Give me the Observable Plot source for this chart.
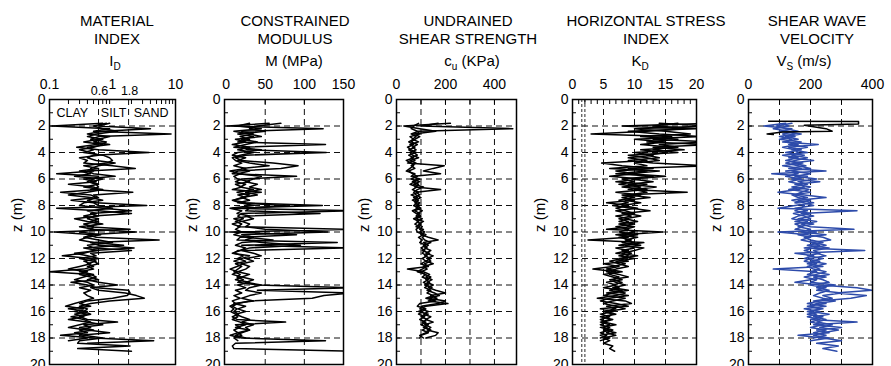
<!DOCTYPE html>
<html><head><meta charset="utf-8">
<script src="https://cdn.jsdelivr.net/npm/d3@7"></script>
<script src="https://cdn.jsdelivr.net/npm/@observablehq/plot@0.6"></script>
<style>
body{margin:0;background:#fff;}
#chart{position:relative;width:891px;height:366px;overflow:hidden;font-family:"Liberation Sans",Arial,sans-serif;color:#000;}
#chart svg{position:absolute;left:0;top:0;}
.t{position:absolute;transform:translateX(-50%);white-space:nowrap;font-size:15px;line-height:15px;}
.t sub{font-size:10px;vertical-align:baseline;position:relative;top:4px;}
</style></head><body><div id="chart"></div>
<script>
// ---------- DATA ----------
const depth = [1.8,2.0,2.2,2.4,2.6,2.8,3.0,3.2,3.4,3.6,
 3.8,4.0,4.2,4.4,4.6,4.8,5.0,5.2,5.4,5.6,
 5.8,6.0,6.2,6.4,6.6,6.8,7.0,7.2,7.4,7.6,
 7.8,8.0,8.2,8.4,8.6,8.8,9.0,9.2,9.4,9.6,
 9.8,10.0,10.2,10.4,10.6,10.8,11.0,11.2,11.4,11.6,
 11.8,12.0,12.2,12.4,12.6,12.8,13.0,13.2,13.4,13.6,
 13.8,14.0,14.2,14.4,14.6,14.8,15.0,15.2,15.4,15.6,
 15.8,16.0,16.2,16.4,16.6,16.8,17.0,17.2,17.4,17.6,
 17.8,18.0,18.2,18.4,18.6,18.8,19.0];

// Material index I_D
const idA = [0.7,0.11,0.9,0.5,8.5,0.6,0.45,0.8,0.55,0.27,
 0.6,3.8,0.5,0.4,0.55,1.1,0.6,0.45,0.5,0.13,
 0.6,0.5,0.4,0.55,0.6,0.45,2.1,0.5,0.6,0.4,
 0.55,3.5,0.13,0.6,2.0,0.5,0.4,0.6,0.35,0.5,
 0.45,2.4,0.4,0.55,5.5,0.45,0.6,2.2,0.5,0.35,
 0.16,0.45,0.55,0.4,0.5,0.35,0.1,0.45,0.55,0.4,
 0.6,1.2,0.45,0.6,1.6,2.4,3.2,0.9,0.45,0.3,
 0.4,0.35,0.45,0.3,0.4,1.2,0.35,0.45,0.3,0.4,
 0.15,0.5,4.5,0.4];
const idB = [0.9,0.6,4.0,0.7,0.4,0.9,0.6,0.35,0.7,0.5,
 0.3,0.45,0.6,0.3,0.4,0.35,1.0,2.3,0.4,0.5,
 1.1,0.35,0.55,0.2,0.5,0.6,0.15,0.45,0.55,0.22,
 0.5,0.6,1.0,0.4,0.55,0.35,0.6,0.45,0.6,0.4,
 1.9,0.12,0.5,0.35,0.6,1.0,0.4,0.5,2.0,0.45,
 0.55,0.3,0.5,0.6,0.4,0.5,0.3,0.5,0.35,0.25,
 0.4,0.5,0.3,0.45,0.35,0.4,0.5,0.35,0.25,0.18,
 0.35,0.25,0.4,0.22,0.35,0.45,0.3,0.2,0.4,0.9,
 0.3,0.4,0.2];
const idC = [0.8,0.5,0.7,1.2,0.55,0.4,0.7,0.5,0.9,0.4,
 0.5,0.35,0.7,0.9,1.0,0.8,0.35,0.6,0.3,0.45,
 0.25,0.7,0.45,0.6,0.35,0.7,0.4,0.2,0.45,0.7,
 0.35,0.3,0.7,2.0,0.45,0.6,0.25,0.4,0.7,0.3,
 0.5,0.3,0.65,0.4,0.3,0.5,1.5,0.35,0.6,0.25,
 0.4,0.6,0.35,0.45,0.3,0.2,0.4,0.3,0.45,0.6,
 0.22,0.4,0.55,1.8,1.9,1.7,1.0,0.4,0.3,0.45,
 0.2,0.4,0.25,0.35,0.2,0.4,0.7,0.3,0.5,0.25,
 0.35,0.7,0.3,0.28,1.9,0.28,2.0];

// Constrained modulus M (MPa)
const mA = [55,2,124,20,35,18,30,15,127,20,
 28,128,25,12,20,60,92,70,15,8,
 90,20,12,25,18,35,14,30,20,10,
 25,123,8,160,20,15,22,12,20,15,
 160,5,90,18,14,142,20,160,15,10,
 22,15,25,12,20,15,10,18,14,22,
 15,40,160,40,160,125,110,30,15,8,
 14,10,16,8,14,76,12,18,10,15,
 5,20,127,12,8,10,160];
const mB = [70,40,30,50,15,35,20,40,25,10,
 45,15,8,25,15,30,55,20,30,15,
 45,35,25,40,30,45,25,40,20,30,
 15,75,30,25,120,25,35,20,30,25,
 50,130,20,35,25,45,95,30,20,35,
 45,25,35,20,30,25,15,30,20,35,
 25,45,30,25,45,30,20,35,10,25,
 15,25,12,20,30,20,35,25,30,15,
 20,10,15];
const mC = [30,15,45,10,30,45,12,25,8,30,
 15,35,18,8,12,20,10,25,5,18,
 10,15,30,12,20,8,45,15,25,8,
 18,35,5,20,14,30,10,20,8,18,
 12,20,10,25,60,20,12,25,18,8,
 30,20,10,22,14,5,15,8,20,12,
 30,15,25,12,20,10,18,8,12,5,
 10,6,12,15,8,18,25,12,30,20,
 12,25];

// Undrained shear strength c_u (kPa)
const cuA = [170,100,475,90,60,80,65,90,55,75,
 50,70,85,60,75,45,195,150,110,180,
 70,85,65,90,75,180,80,95,70,90,
 75,95,80,105,85,100,80,110,90,105,
 95,115,100,130,170,110,130,115,140,120,
 150,125,140,115,130,45,110,135,120,145,
 125,150,130,160,200,140,165,130,210,120,
 95,130,110,140,120,150,115,140,125,170,
 160,120];
const cuB = [220,30,95,160,70,95,75,60,85,65,
 80,55,65,90,55,80,60,75,50,65,
 85,60,95,70,110,85,70,80,100,75,
 95,80,100,75,95,80,105,85,100,80,
 110,95,120,105,115,140,110,125,105,135,
 115,140,120,150,110,125,100,115,140,120,
 135,115,145,125,155,175,130,200,170,100,
 115,90,130,100,125,105,130,110,140,120,
 95,110];
const cuC = [90,70,60,85,95,55,70,50,70,45,
 60,80,50,70,40,60,70,55,40,75,
 60,95,75,55,85,65,90,60,85,65,
 85,70,90,65,80,95,70,90,75,95,
 80,85,110,90,105,95,120,100,115,105,
 125,105,120,100,125,105,85,120,105,130,
 110,130,115,140,125,150,120,160,95,85,
 120,105,90,115,95,120,100,125,105,130,
 100,95];

// Horizontal stress index K_D
const kdA = [22,8,18,12,3,16,13,22,14,17,
 11,15,12,14,9,13,22,9,12,7,
 13,8,10,7.5,11,9,18.5,8,10,7.5,
 9,6.5,9.5,12.5,8,9.5,7.5,9,8,9.5,
 5.5,14.5,8,9,2.5,11.5,8.5,10,8,9.5,
 7.5,10,7,8.5,6.5,3.3,7,6,7.5,6.5,
 8,6.5,7.5,6,8.5,7,4,8.5,9.5,5.5,
 7,5,6.5,5.5,6,4.5,6,5,6.5,5.5,
 7,5,6,5,6.5,6,6.8];
const kdB = [14,22,10,15,19,11,17,12,22,13,
 18,10,13,9,12,4.7,8,13,7,10,
 6,11,7,12,8,12,7,11,8,10,
 5.5,9,7,8.5,10,7,9,7.5,10,7,
 9,7.5,10.5,7.5,9.5,8,11,7,9,7,
 10.5,7.5,9,5,7.5,5.5,8,5,6.5,8,
 5.5,7,5,8,5.5,9,6,4.5,7,9,
 4.5,6.5,4.5,6,4.5,5.5,4.5,6,5,7,
 4.5,6,4.5];
const kdC = [17,13,20,9,14,21,10,15,11,16,
 13,17,9,12,14,10,12,6,14,9,
 15,9.5,13,9,13.5,10,12,9,12.5,8.5,
 11,8,10.5,7,9,11,8.5,10.5,7.5,10,
 8.5,10,7,10.5,8.5,10,7.5,11.5,10,8,
 9,8,6,7.5,9,7,5.5,7.5,9,6,
 7,8.5,6.5,9,6.5,5,8.5,6.5,5,7,
 8.5,5.5,7,4.5,6.5,5,7,4.5,6,4.5,
 5.5,4.5];

// Shear wave velocity V_S (m/s)
const vsA = [120,50,140,100,170,120,160,110,225,130,
 170,120,180,130,210,140,185,130,250,75,
 190,140,230,150,200,160,95,180,250,160,
 210,150,95,350,170,210,160,220,170,200,
 340,95,190,240,265,200,230,180,375,150,
 210,180,230,190,240,80,220,190,250,200,
 150,230,350,400,280,380,330,230,190,250,
 180,230,190,240,200,350,210,300,220,260,
 160,240,300,220,290,240,285];
const vsB = [140,90,120,160,110,150,100,170,130,190,
 140,190,110,160,120,175,110,170,140,200,
 150,220,160,190,140,195,170,150,190,140,
 180,210,150,190,145,180,200,150,210,160,
 200,170,250,180,200,240,190,260,210,230,
 190,240,200,250,210,230,200,260,210,240,
 260,200,250,220,300,240,270,210,250,190,
 230,200,260,210,250,220,270,230,290,240,
 210,260,200];
const vsC = [100,130,80,130,150,100,140,120,160,110,
 150,160,140,190,150,120,160,200,120,160,
 120,170,130,170,180,130,200,140,160,200,
 150,180,170,150,200,160,140,190,150,175,
 150,220,160,200,170,210,250,210,180,220,
 250,200,180,220,190,210,250,220,180,220,
 200,280,220,260,230,210,240,280,220,200,
 240,190,220,190,230,200,240,200,250,210,
 250,210];
const vsTopZ = [1.64,1.66,1.84,1.95,2.2,2.4,2.45,2.6,2.65];
const vsTopV = [65,355,355,180,250,270,110,60,80];

// Axis ticks and labels
const zTicks = [0,2,4,6,8,10,12,14,16,18,20];
const zGrid = [2,4,6,8,10,12,14,16,18];
const zMinor = [0,1,2,3,4,5,6,7,8,9,10,11,12,13,14,15,16,17,18,19,20];
const idTicks = [0.1,1,10];
const idZones = [0.6,1.8];
const idMinor = [0.2,0.3,0.4,0.5,0.6,0.7,0.8,0.9,2,3,4,5,6,7,8,9];
const soilNames = ["CLAY","SILT","SAND"];
const soilPos = [0.23,1.04,4.1];
const mTicks = [0,50,100,150], mGrid = [50,100];
const cuTicks = [0,200,400], cuGrid = [100,200,300,400];
const kdTicks = [0,5,10,15,20], kdGrid = [5,10,15], kdLimits = [1.5,2];
const kdMinor = [1,2,3,4,6,7,8,9,11,12,13,14,16,17,18,19];
const vsTicks = [0,200,400], vsGrid = [100,200,300];

const titleLines = [["MATERIAL","INDEX"],["CONSTRAINED","MODULUS"],["UNDRAINED","SHEAR STRENGTH"],["HORIZONTAL STRESS","INDEX"],["SHEAR WAVE","VELOCITY"]];
const symbols = ["I<sub>D</sub>","M (MPa)","c<sub>u</sub> (KPa)","K<sub>D</sub>","V<sub>S</sub> (m/s)"];

// ---------- DRAW ----------
const W = 891, H = 366;
const root = document.getElementById("chart");
const blue = "#2d4baa";
const font = "'Liberation Sans', Arial, sans-serif";

function toRows(vals, zs = depth) { return vals.map((v, i) => ({z: zs[i], v})); }

function panel(cfg) {
  const marks = [
    Plot.ruleY(zGrid, {y: d => d, stroke: "#111", strokeWidth: 1, strokeDasharray: "6,4"}),
    Plot.ruleX(cfg.grid, {x: d => d, stroke: "#111", strokeWidth: 1, strokeDasharray: "6,4"}),
    ...(cfg.before || []),
    ...cfg.traces.map(t => Plot.line(toRows(t), {x: "v", y: "z", stroke: cfg.color, strokeWidth: 1.5, clip: true})),
    ...(cfg.after || []),
    Plot.frame({stroke: "#000", strokeWidth: 1.5}),
    Plot.axisY({ticks: zMinor, tickSize: -4, tickFormat: () => "", label: null}),
    Plot.axisY({ticks: zTicks, tickSize: 0, tickPadding: 4, fontSize: 14, label: null}),
    Plot.axisX({anchor: "top", ticks: cfg.ticks, tickSize: 0, tickPadding: 11, fontSize: 14, tickFormat: d => String(d), label: null}),
    Plot.axisX({anchor: "top", ticks: cfg.minor, tickSize: -4, tickFormat: () => "", label: null}),
    Plot.text(["z (m)"], {text: d => d, frameAnchor: "left", rotate: -90, dx: -32, fontSize: 15})
  ];
  return Plot.plot({
    width: W, height: H,
    marginLeft: cfg.L, marginRight: W - cfg.R, marginTop: 99, marginBottom: 2,
    x: {type: cfg.type || "linear", domain: cfg.domain},
    y: {domain: [0, 20], reverse: true},
    style: {background: "transparent", overflow: "visible", fontFamily: font, fontSize: "14px", color: "#000"},
    marks
  });
}

const panels = [
  {L: 49, R: 175, type: "log", domain: [0.1, 10], ticks: idTicks, minor: idMinor, grid: idZones,
   traces: [idA, idB, idC], color: "#000",
   after: [
     Plot.text(soilNames, {x: (d, i) => soilPos[i], text: d => d, frameAnchor: "top", dy: 9, fontSize: 12.5}),
     Plot.text(idZones, {x: d => d, text: d => String(d), frameAnchor: "top", dy: -5, dx: 1, lineAnchor: "bottom", fontSize: 12.5})
   ]},
  {L: 224, R: 343, domain: [-2, 150], ticks: mTicks, minor: mGrid, grid: mGrid, traces: [mA, mB, mC], color: "#000"},
  {L: 396, R: 516, domain: [0, 490], ticks: cuTicks, minor: cuGrid, grid: cuGrid, traces: [cuA, cuB, cuC], color: "#000"},
  {L: 572, R: 696, domain: [0, 20], ticks: kdTicks, minor: kdMinor, grid: kdGrid, traces: [kdA, kdB, kdC], color: "#000",
   before: [Plot.ruleX(kdLimits, {x: d => d, stroke: "#111", strokeWidth: 0.9, strokeDasharray: "3,2"})]},
  {L: 748, R: 872, domain: [0, 400], ticks: vsTicks, minor: vsGrid, grid: vsGrid, traces: [vsA, vsB, vsC], color: blue,
   after: [Plot.line(toRows(vsTopV, vsTopZ), {x: "v", y: "z", stroke: "#000", strokeWidth: 1.5, clip: true})]}
];

panels.forEach(p => root.appendChild(panel(p)));

// titles
const titleX = [117, 295, 468, 646, 817];
const symbolX = [115, 294, 472, 640, 804];
const baselines = [25, 43, 65];
function addTitle(html, x, baseline) {
  const d = document.createElement("div");
  d.className = "t";
  d.innerHTML = html;
  d.style.left = x + "px";
  d.style.top = (baseline - 12.5) + "px";
  root.appendChild(d);
}
titleLines.forEach((lines, i) => {
  lines.forEach((s, j) => addTitle(s, titleX[i], baselines[j]));
  addTitle(symbols[i], symbolX[i], baselines[2]);
});
</script></body></html>
